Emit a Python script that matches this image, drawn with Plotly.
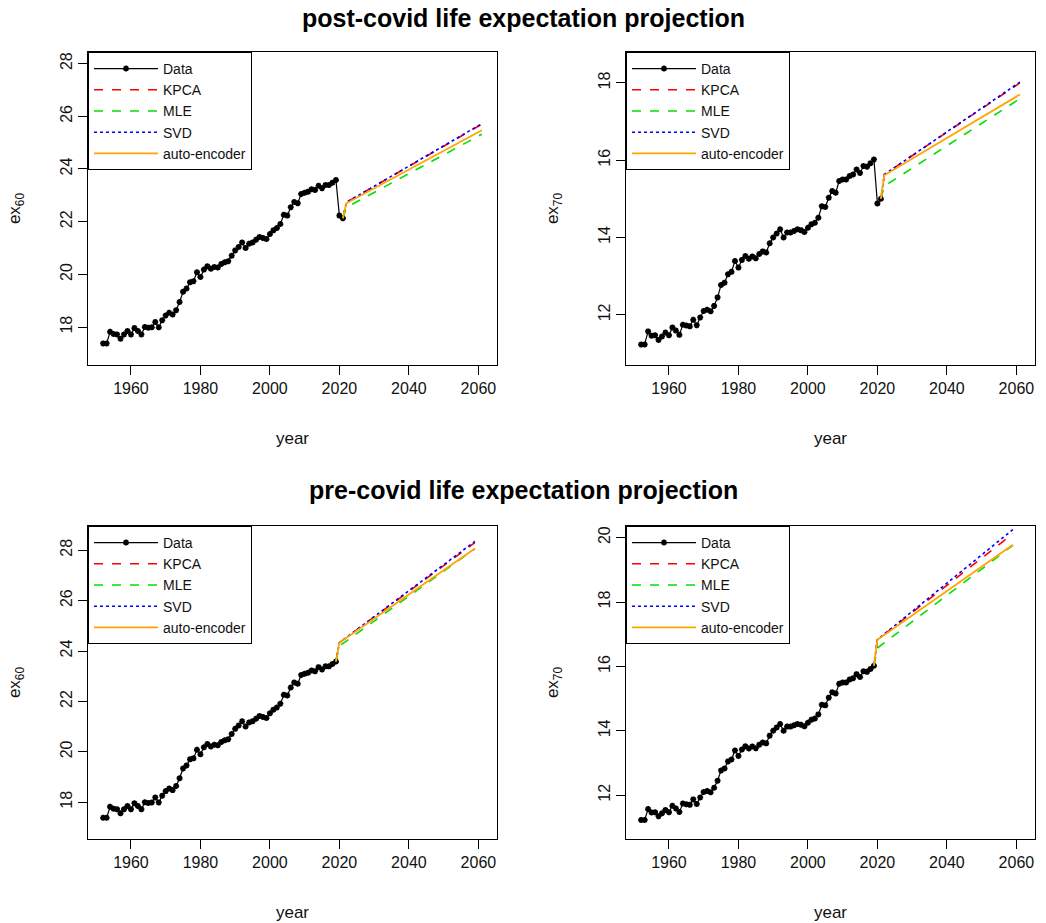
import plotly.graph_objects as go

# ---------------- data ----------------
years_obs = list(range(1952, 2022))
ex60_obs = [17.38, 17.38, 17.82, 17.74, 17.72, 17.56, 17.72, 17.85, 17.72, 17.96,
            17.85, 17.72, 18.00, 17.97, 17.99, 18.19, 17.99, 18.26, 18.44, 18.54,
            18.48, 18.64, 18.95, 19.34, 19.46, 19.70, 19.74, 20.08, 19.90, 20.18,
            20.31, 20.21, 20.28, 20.26, 20.39, 20.46, 20.50, 20.71, 20.91, 21.04,
            21.21, 21.00, 21.16, 21.21, 21.31, 21.42, 21.38, 21.34, 21.53, 21.67,
            21.76, 21.91, 22.26, 22.23, 22.55, 22.75, 22.70, 23.05, 23.10, 23.14,
            23.23, 23.20, 23.36, 23.27, 23.39, 23.39, 23.48, 23.58, 22.23, 22.13]
ex70_obs = [11.23, 11.23, 11.57, 11.46, 11.47, 11.35, 11.44, 11.54, 11.47, 11.67,
            11.59, 11.48, 11.74, 11.72, 11.70, 11.87, 11.73, 11.93, 12.10, 12.13,
            12.09, 12.23, 12.45, 12.77, 12.83, 13.05, 13.11, 13.39, 13.22, 13.42,
            13.52, 13.45, 13.51, 13.46, 13.57, 13.64, 13.61, 13.85, 14.00, 14.10,
            14.21, 14.00, 14.13, 14.13, 14.17, 14.21, 14.19, 14.14, 14.25, 14.34,
            14.38, 14.51, 14.81, 14.79, 15.03, 15.20, 15.16, 15.46, 15.50, 15.50,
            15.59, 15.63, 15.76, 15.67, 15.85, 15.83, 15.92, 16.02, 14.88, 15.00]
pre_last_year = 2019

# post-covid projections (start at last observed point 2021)
proj_years_post = [2021, 2022, 2061]
kpca60_post = [22.13, 22.73, 25.70]
mle60_post = [22.13, 22.54, 25.32]
svd60_post = [22.13, 22.73, 25.72]
ae60_post = [22.13, 22.70, 25.47]
kpca70_post = [15.00, 15.63, 18.00]
mle70_post = [15.00, 15.33, 17.59]
svd70_post = [15.00, 15.63, 18.02]
ae70_post = [15.00, 15.61, 17.70]

# pre-covid projections (start at last observed point 2019)
proj_years_pre = [2019, 2020, 2059]
kpca60_pre = [23.58, 24.33, 28.30]
mle60_pre = [23.58, 24.20, 28.05]
svd60_pre = [23.58, 24.33, 28.35]
ae60_pre = [23.58, 24.33, 28.07]
kpca70_pre = [16.02, 16.83, 20.12]
mle70_pre = [16.02, 16.57, 19.76]
svd70_pre = [16.02, 16.83, 20.25]
ae70_pre = [16.02, 16.83, 19.78]

x_ticks = [1960, 1980, 2000, 2020, 2040, 2060]
x_range = [1947.64, 2065.36]

# ---------------- figure ----------------
W, H = 1046, 923
FONT = "Liberation Sans, Arial, sans-serif"
TXT = "#111111"
fig = go.Figure()

n_pre = years_obs.index(pre_last_year) + 1

panels = [
    ("", "legend", years_obs, ex60_obs, proj_years_post, kpca60_post, mle60_post, svd60_post, ae60_post,
     "ex<sub>60</sub>", [16.56, 28.44], [18, 20, 22, 24, 26, 28], (88, 497, 52, 365)),
    ("2", "legend2", years_obs, ex70_obs, proj_years_post, kpca70_post, mle70_post, svd70_post, ae70_post,
     "ex<sub>70</sub>", [10.70, 18.80], [12, 14, 16, 18], (626, 1035, 52, 365)),
    ("3", "legend3", years_obs[:n_pre], ex60_obs[:n_pre], proj_years_pre, kpca60_pre, mle60_pre, svd60_pre, ae60_pre,
     "ex<sub>60</sub>", [16.54, 28.96], [18, 20, 22, 24, 26, 28], (88, 497, 526, 839)),
    ("4", "legend4", years_obs[:n_pre], ex70_obs[:n_pre], proj_years_pre, kpca70_pre, mle70_pre, svd70_pre, ae70_pre,
     "ex<sub>70</sub>", [10.64, 20.36], [12, 14, 16, 18, 20], (626, 1035, 526, 839)),
]

layout = dict(
    width=W, height=H,
    margin=dict(l=0, r=0, t=0, b=0),
    paper_bgcolor="white", plot_bgcolor="white",
    font=dict(family=FONT, color=TXT),
    showlegend=True,
)

for suf, leg, yo, vo, yp, kp, ml, sv, ae, ylab, yr, yt, box in panels:
    xa, ya = "x" + suf, "y" + suf
    x0, x1, y0, y1 = box
    common = dict(xaxis=xa, yaxis=ya, legend=leg)
    fig.add_trace(go.Scatter(x=yo, y=vo, mode="lines+markers", name="Data",
                             line=dict(color="black", width=1.2),
                             marker=dict(symbol="asterisk-open", size=5, color="black",
                                         line=dict(color="black", width=1.8)), **common))
    fig.add_trace(go.Scatter(x=yp, y=kp, mode="lines", name="KPCA",
                             line=dict(color="#FF0000", width=1.6, dash="dash"), **common))
    fig.add_trace(go.Scatter(x=yp, y=ml, mode="lines", name="MLE",
                             line=dict(color="#00E000", width=1.6, dash="dash"), **common))
    fig.add_trace(go.Scatter(x=yp, y=sv, mode="lines", name="SVD",
                             line=dict(color="#0000FF", width=1.6, dash="dot"), **common))
    fig.add_trace(go.Scatter(x=yp, y=ae, mode="lines", name="auto-encoder",
                             line=dict(color="#FFA500", width=1.8), **common))

    xd = [x0 / W, x1 / W]
    yd = [1 - y1 / H, 1 - y0 / H]
    layout["xaxis" + suf] = dict(
        domain=xd, anchor=ya, range=x_range, tickvals=x_ticks,
        showgrid=False, zeroline=False, showline=True, mirror=True,
        linecolor="black", linewidth=1, ticks="outside", ticklen=9, tickcolor="black",
        tickfont=dict(size=16, family=FONT, color=TXT),
        title=dict(text="year", font=dict(size=17, family=FONT, color=TXT), standoff=35),
        automargin=False,
    )
    layout["yaxis" + suf] = dict(
        domain=yd, anchor=xa, range=yr, tickvals=yt,
        showgrid=False, zeroline=False, showline=True, mirror=True,
        linecolor="black", linewidth=1, ticks="outside", ticklen=9, tickcolor="black",
        tickangle=-90,
        tickfont=dict(size=16, family=FONT, color=TXT),
        title=dict(text=ylab, font=dict(size=17, family=FONT, color=TXT), standoff=32),
        automargin=False,
    )
    layout[leg] = dict(
        x=xd[0], y=yd[1], xanchor="left", yanchor="top",
        bgcolor="white", bordercolor="black", borderwidth=1,
        font=dict(size=14, family=FONT, color=TXT),
        itemwidth=64, tracegroupgap=0,
    )

layout["annotations"] = [
    dict(text="<b>post-covid life expectation projection</b>", x=0.5, y=1 - 18 / H,
         xref="paper", yref="paper", xanchor="center", yanchor="middle", showarrow=False,
         font=dict(size=25, family=FONT, color="black")),
    dict(text="<b>pre-covid life expectation projection</b>", x=0.5, y=1 - 490 / H,
         xref="paper", yref="paper", xanchor="center", yanchor="middle", showarrow=False,
         font=dict(size=25, family=FONT, color="black")),
]

fig.update_layout(**layout)
fig.write_html(
    "out.html",
    config={"displayModeBar": False},
    post_script="document.body.style.margin='0';document.body.style.overflow='hidden';",
)
